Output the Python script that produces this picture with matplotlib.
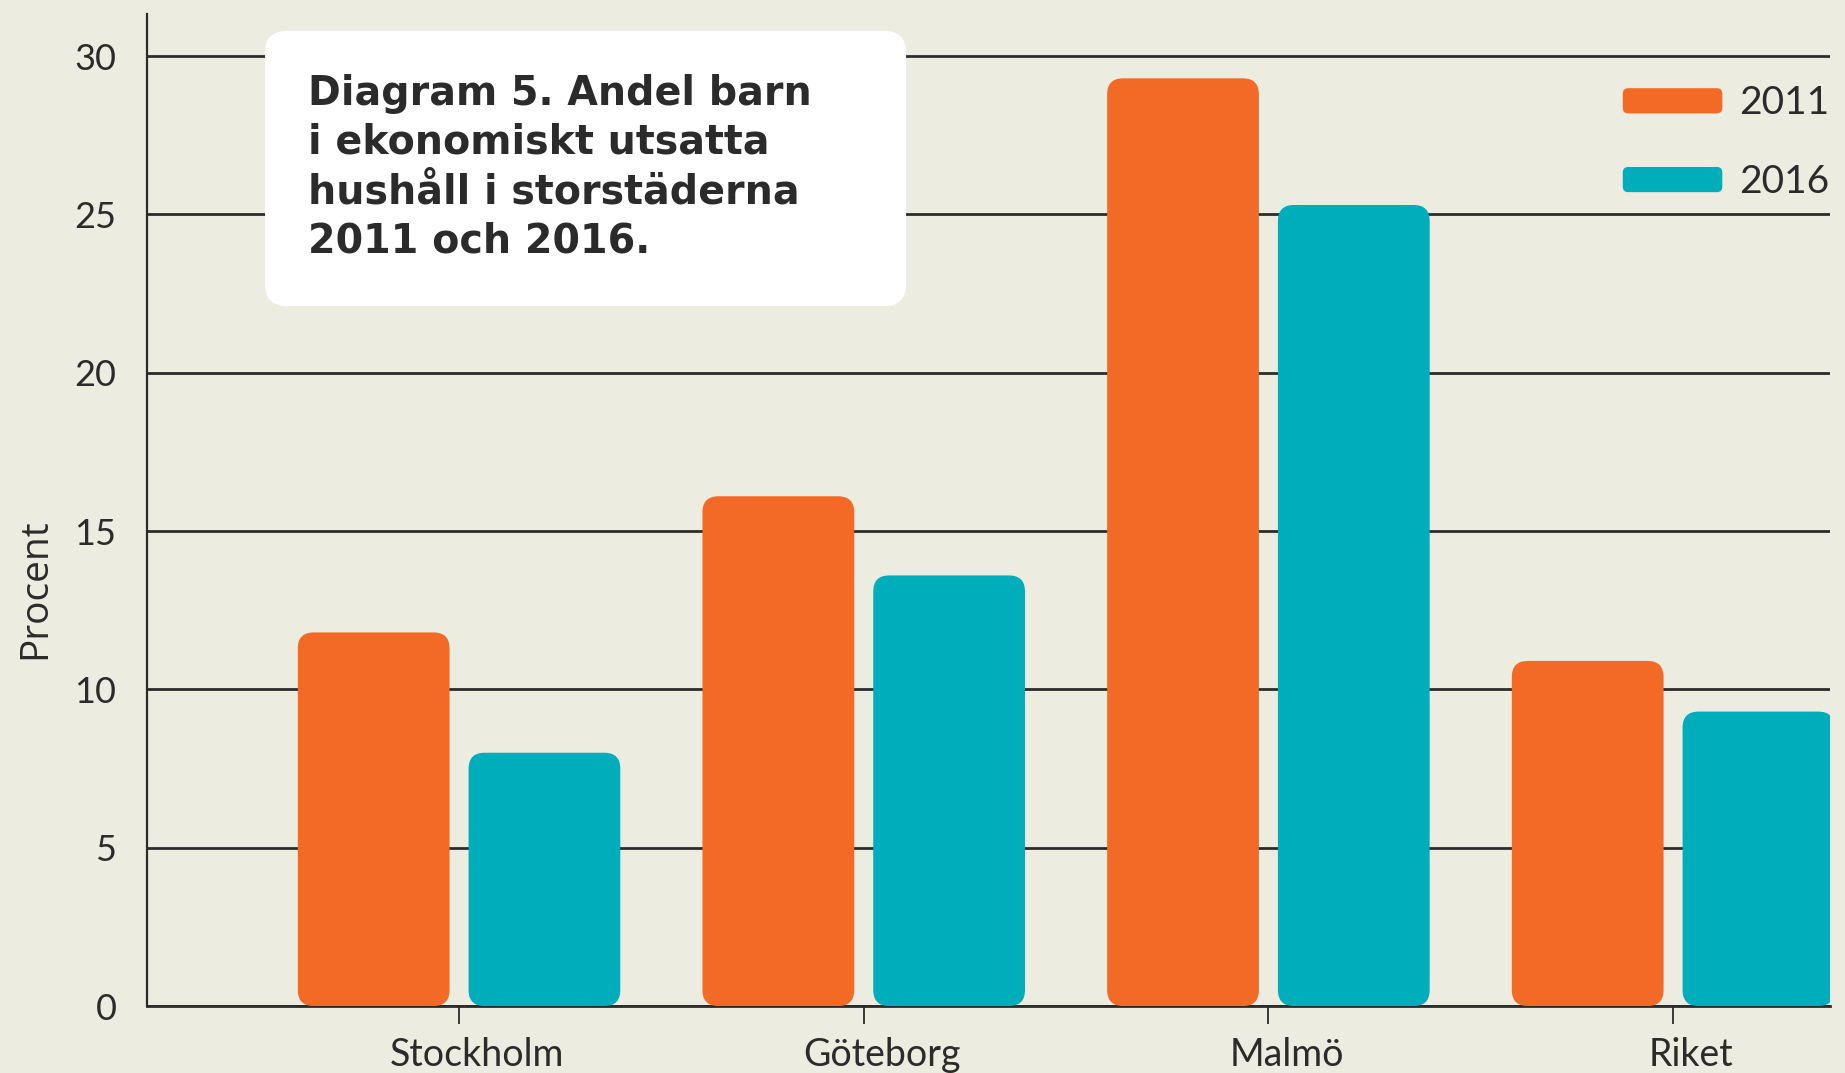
import numpy as np
import matplotlib
matplotlib.use("Agg")
import matplotlib.pyplot as plt
from matplotlib.patches import FancyBboxPatch
from matplotlib.legend_handler import HandlerPatch
from matplotlib.transforms import ScaledTranslation

# data
categories = ["Stockholm", "Göteborg", "Malmö", "Riket"]
years = ["2011", "2016"]
values_2011 = [11.8, 16.1, 29.3, 10.9]
values_2016 = [8.0, 13.6, 25.3, 9.3]
y_ticks = [0, 5, 10, 15, 20, 25, 30]

title = "Diagram 5. Andel barn\ni ekonomiskt utsatta\nhushåll i storstäderna\n2011 och 2016."

BG = "#EDECE1"
ORANGE = "#F26A25"
TEAL = "#00ADBB"
DARK = "#2B2B2B"

plt.rcParams['font.family'] = ['Lato', 'DejaVu Sans']

fig = plt.figure(figsize=(18.45, 10.73), dpi=100, facecolor=BG)
ax = fig.add_axes([0.0797, 0.0624, 0.912, 0.9245], facecolor=BG)

xlim = (-0.771, 3.387)
ylim = (0, 31.33)
ax.set_xlim(*xlim)
ax.set_ylim(*ylim)

# pixel scale to keep bar corners circular
bbox = ax.get_window_extent()
px_x = bbox.width / (xlim[1] - xlim[0])
px_y = bbox.height / (ylim[1] - ylim[0])
aspect = px_x / px_y
radius = 16 / px_x

width = 0.375
offset = 0.211
x = np.arange(len(categories))


def rounded_bar(ax, xc, h, color):
    p = FancyBboxPatch((xc - width / 2, 0), width, h,
                       boxstyle=f"round,pad=0,rounding_size={radius}",
                       mutation_aspect=aspect, facecolor=color,
                       edgecolor="none", zorder=3)
    ax.add_patch(p)
    return p


for xi, v in zip(x, values_2011):
    rounded_bar(ax, xi - offset, v, ORANGE)
for xi, v in zip(x, values_2016):
    rounded_bar(ax, xi + offset, v, TEAL)

# axes styling
for s in ["top", "right"]:
    ax.spines[s].set_visible(False)
ax.spines["left"].set_color(DARK)
ax.spines["left"].set_linewidth(1.6)
ax.spines["bottom"].set_color(DARK)
ax.spines["bottom"].set_linewidth(2)
ax.spines["bottom"].set_zorder(2)

ax.set_yticks(y_ticks)
ax.tick_params(axis="y", length=0, pad=22, labelsize=26, labelcolor=DARK)
ax.grid(axis="y", color=DARK, linewidth=2, zorder=1)
ax.set_axisbelow(True)

ax.set_xticks(x)
ax.set_xticklabels(categories)
ax.tick_params(axis="x", length=13, width=1.3, color=DARK, pad=9,
               labelsize=27, labelcolor=DARK)
shift = ScaledTranslation(18 / 100, 0, fig.dpi_scale_trans)
for lab in ax.get_xticklabels():
    lab.set_transform(lab.get_transform() + shift)

ax.set_ylabel("Procent", fontsize=28, color=DARK, family=["Open Sans", "DejaVu Sans"])
ax.yaxis.set_label_coords(-0.055, 0.421)

# title box
box = FancyBboxPatch((0.0701, 0.7056), 0.381, 0.2774,
                     boxstyle="round,pad=0,rounding_size=0.013",
                     mutation_aspect=1683 / 992,
                     transform=ax.transAxes, facecolor="white",
                     edgecolor="none", zorder=4)
ax.add_patch(box)
ax.text(0.0957, 0.940, title, transform=ax.transAxes, ha="left", va="top",
        fontsize=28.5, fontweight="bold", color=DARK, linespacing=1.3, zorder=5,
        family=["DejaVu Sans"])


# legend with rounded swatches
class RoundHandler(HandlerPatch):
    def create_artists(self, legend, orig_handle, xdescent, ydescent,
                       width, height, fontsize, trans):
        p = FancyBboxPatch((-xdescent, -ydescent), width, height,
                           boxstyle="round,pad=0,rounding_size=4",
                           facecolor=orig_handle.get_facecolor(),
                           edgecolor="none", transform=trans)
        return [p]


handles = [plt.Rectangle((0, 0), 1, 1, facecolor=c) for c in (ORANGE, TEAL)]
leg = ax.legend(handles, years, loc="upper right", bbox_to_anchor=(1.0, 0.928),
                frameon=False, fontsize=28, handlelength=2.56, handleheight=0.62,
                labelspacing=1.1, handletextpad=0.44, borderpad=0, borderaxespad=0,
                handler_map={plt.Rectangle: RoundHandler()})
for t in leg.get_texts():
    t.set_color(DARK)

fig.savefig("out.png", dpi=100, facecolor=BG)
